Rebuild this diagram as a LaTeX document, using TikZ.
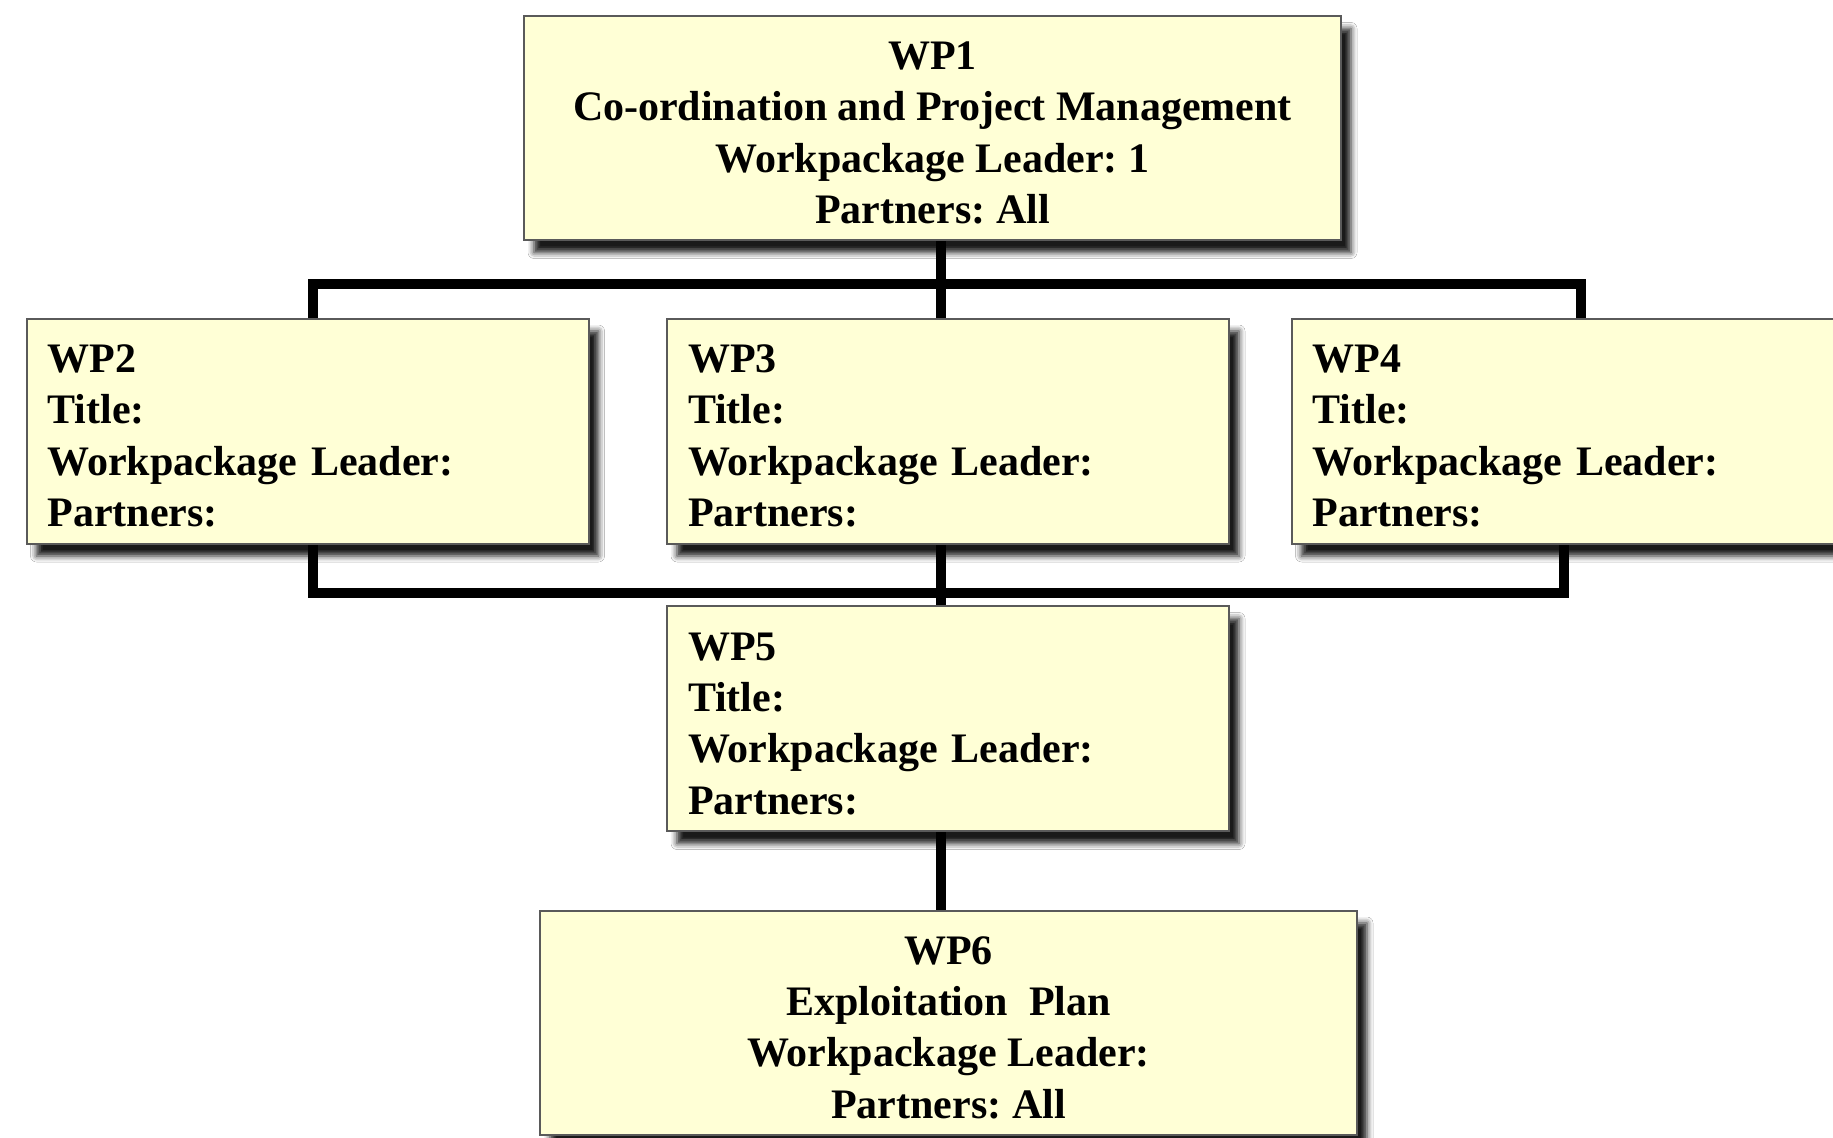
\documentclass[tikz,border=0pt]{standalone}
\usepackage{fontspec}
\setmainfont{Liberation Serif}
\frenchspacing
\usetikzlibrary{shadows.blur}
\pgfdeclarelayer{background}
\pgfsetlayers{background,main}
\definecolor{boxfill}{HTML}{FFFFD6}
\definecolor{boxline}{HTML}{5A5A5A}
\newcommand{\toppad}{\rule{0pt}{18.5pt}}
\begin{document}
\begin{tikzpicture}[x=0.5pt,y=-0.5pt,
  wpbox/.style={rectangle, draw=boxline, line width=1pt, fill=boxfill, inner sep=0pt,
    font=\fontsize{21}{25.7}\selectfont\bfseries,
    blur shadow={shadow xshift=5pt, shadow yshift=-6pt, shadow blur radius=3pt, shadow opacity=90}},
  wide/.style={wpbox, minimum width=408.5pt, minimum height=112pt, align=center},
  side/.style={wpbox, minimum width=281pt, minimum height=112.5pt, text width=260pt, align=left},
  link/.style={line width=4.7pt, black}]
\clip (0,0) rectangle (1833,1138);

\node[wide] (WP1) at (932.5,128.5) {\toppad WP1\\Co-ordination and Project Management\\Workpackage Leader: 1\\Partners: All};
\node[side] (WP2) at (307.5,431.5) {\toppad WP2\\Title:\\Workpackage Leader:\\Partners:};
\node[side] (WP3) at (948,431.5) {\toppad WP3\\Title:\\Workpackage Leader:\\Partners:};
\node[side] (WP4) at (1572.5,431.5) {\toppad WP4\\Title:\\Workpackage Leader:\\Partners:};
\node[side] (WP5) at (948,719) {\toppad WP5\\Title:\\Workpackage Leader:\\Partners:};
\node[wide] (WP6) at (948.5,1023) {\toppad WP6\\Exploitation~ Plan\\Workpackage Leader:\\Partners: All};

\coordinate (tb) at (941,284);
\coordinate (tl) at (313,284);
\coordinate (tr) at (1581,284);
\coordinate (bb) at (941,593);
\coordinate (bl) at (313,593);
\coordinate (br) at (1564,593);

\begin{pgfonlayer}{background}
\fill[white] (0,0) rectangle (1833,1138);
\draw[link] (WP1.south -| tb) -- (WP3.north -| tb);
\draw[link] (WP2.north -| tl) |- (tr) -- (WP4.north -| tr);
\draw[link] (WP2.south -| bl) |- (br) -- (WP4.south -| br);
\draw[link] (WP3.south -| bb) -- (WP5.north -| bb);
\draw[link] (WP5.south -| bb) -- (WP6.north -| bb);
\end{pgfonlayer}
\end{tikzpicture}
\end{document}
